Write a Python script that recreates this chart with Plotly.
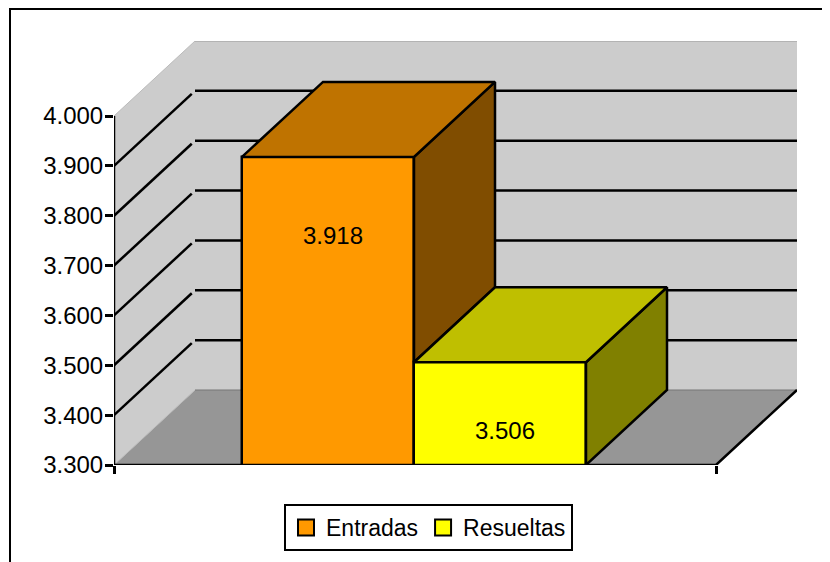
import plotly.graph_objects as go

categories = ["Entradas", "Resueltas"]
values = [3918, 3506]
colors_front = ["#FF9900", "#FFFF00"]
colors_top = ["#BF7300", "#BFBF00"]
colors_side = ["#804D00", "#808000"]
tick_vals = [3300, 3400, 3500, 3600, 3700, 3800, 3900, 4000]
tick_text = ["3.300", "3.400", "3.500", "3.600", "3.700", "3.800", "3.900", "4.000"]

W, H = 830, 562
PAGE = 8                # the page's own margin around the figure
L, R, T, B = 114, 797, 41, 465
PX_X = 172.0            # pixels per category unit
PX_Y = 349.0 / 700.0    # pixels per value unit
DX = 81 / PX_X          # depth offset in x units
DY = 75 / PX_Y          # depth offset in y units
XMAX = (R - L) / PX_X
YMIN = 3300
YMAX = YMIN + (B - T) / PX_Y
YTOP = tick_vals[-1]
FLOOR_W = 3.5
BAR_START = 128 / PX_X
FONT = "Liberation Sans, Arial, sans-serif"
FS = 24
LW = 2.5

fig = go.Figure()

# front faces
for i, (c, v) in enumerate(zip(categories, values)):
    fig.add_trace(go.Bar(
        x=[BAR_START + i + 0.5], y=[v], width=[1], name=c, showlegend=False,
        marker=dict(color=colors_front[i], line=dict(color="black", width=LW)),
        hoverinfo="skip",
    ))

# side and top faces, back to front; a side stops where the next bar hides it
for i, v in enumerate(values):
    x0 = BAR_START + i
    x1 = x0 + 1
    low = values[i + 1] if i + 1 < len(values) else YMIN
    fig.add_trace(go.Scatter(
        x=[x1, x1 + DX, x1 + DX, x1, x1], y=[v, v + DY, low + DY, low, v],
        mode="lines", fill="toself", fillcolor=colors_side[i],
        line=dict(color="black", width=LW), showlegend=False, hoverinfo="skip", cliponaxis=False,
    ))
    fig.add_trace(go.Scatter(
        x=[x0, x0 + DX, x1 + DX, x1, x0], y=[v, v + DY, v + DY, v, v],
        mode="lines", fill="toself", fillcolor=colors_top[i],
        line=dict(color="black", width=LW), showlegend=False, hoverinfo="skip", cliponaxis=False,
    ))

# axis lines
fig.add_trace(go.Scatter(x=[0, 0], y=[YMIN, YTOP], mode="lines",
                         line=dict(color="black", width=LW), showlegend=False,
                         hoverinfo="skip", cliponaxis=False))
fig.add_trace(go.Scatter(x=[0, FLOOR_W, FLOOR_W + DX], y=[YMIN, YMIN, YMIN + DY], mode="lines",
                         line=dict(color="black", width=LW), showlegend=False,
                         hoverinfo="skip", cliponaxis=False))

# legend entries
for i, c in enumerate(categories):
    fig.add_trace(go.Scatter(
        x=[None], y=[None], mode="markers", name=c, hoverinfo="skip",
        marker=dict(symbol="square", size=16, color=colors_front[i],
                    line=dict(color="black", width=2)),
    ))

# walls and gridlines, underneath the bars
shapes = []
shapes.append(dict(type="path", path=f"M 0 {YMIN} L 0 {YTOP} L {DX} {YTOP + DY} "
                   f"L {DX + FLOOR_W} {YTOP + DY} L {DX + FLOOR_W} {YMIN + DY} L {DX} {YMIN + DY} Z",
                   fillcolor="#CCCCCC", line=dict(width=0), layer="below"))
shapes.append(dict(type="path", path=f"M 0 {YMIN} L {DX} {YMIN + DY} L {DX + FLOOR_W} {YMIN + DY} L {FLOOR_W} {YMIN} Z",
                   fillcolor="#969696", line=dict(width=0), layer="below"))
shapes.append(dict(type="line", x0=DX, x1=DX + FLOOR_W, y0=YMIN + DY, y1=YMIN + DY,
                   line=dict(color="#777777", width=1), layer="below"))
shapes.append(dict(type="line", x0=DX, x1=DX + FLOOR_W, y0=YTOP + DY, y1=YTOP + DY,
                   line=dict(color="#999999", width=1), layer="below"))
shapes.append(dict(type="line", x0=0, x1=DX, y0=YTOP, y1=YTOP + DY,
                   line=dict(color="#BBBBBB", width=1), layer="below"))
shapes.append(dict(type="line", x0=0, x1=DX, y0=YMIN, y1=YMIN + DY,
                   line=dict(color="#BBBBBB", width=1), layer="below"))
for v in tick_vals[1:-1]:
    shapes.append(dict(type="line", x0=0, x1=DX * 0.96, y0=v, y1=v + DY * 0.96,
                       line=dict(color="black", width=LW), layer="below"))
    shapes.append(dict(type="line", x0=DX, x1=DX + FLOOR_W, y0=v + DY, y1=v + DY,
                       line=dict(color="black", width=LW), layer="below"))


# page pixels converted to plot fractions
def fx(px):
    return (px - L) / (R - L)


def fy(px):
    return (B - px) / (B - T)


# outer frame: only its left and top edges fall inside the picture
shapes.append(dict(type="rect", xref="paper", yref="paper",
                   x0=fx(10), x1=fx(900), y0=fy(640), y1=fy(9),
                   line=dict(color="black", width=2), layer="below"))

# value labels, set off from the bar centres as in the reference
label_y = [3761, 3370]
LABEL_SHIFT = 5 / PX_X
annotations = [dict(x=BAR_START + i + 0.5 + LABEL_SHIFT, y=label_y[i],
                    text=f"{v:,}".replace(",", "."),
                    showarrow=False, font=dict(family=FONT, size=FS, color="black"))
               for i, v in enumerate(values)]

fig.update_layout(
    width=W - PAGE, height=H - PAGE, autosize=False,
    margin=dict(l=L - PAGE, r=W - R, t=T - PAGE, b=H - B, pad=0),
    paper_bgcolor="white", plot_bgcolor="white",
    barmode="overlay", bargap=0,
    font=dict(family=FONT, size=FS, color="black"),
    xaxis=dict(range=[0, XMAX], showgrid=False, zeroline=False, showline=False,
               tickmode="array", tickvals=[0, FLOOR_W], ticktext=["", ""],
               ticks="outside", ticklen=8, tickwidth=LW, tickcolor="black", fixedrange=True),
    yaxis=dict(range=[YMIN, YMAX], showgrid=False, zeroline=False, showline=False,
               tickmode="array", tickvals=tick_vals, ticktext=tick_text,
               ticks="outside", ticklen=8, tickwidth=LW, tickcolor="black", fixedrange=True,
               ticklabelstandoff=-3,
               tickfont=dict(family=FONT, size=FS, color="black")),
    legend=dict(orientation="h", xref="container", yref="container",
                x=(284 - PAGE) / (W - PAGE), y=1 - (504 - PAGE) / (H - PAGE),
                xanchor="left", yanchor="top",
                bgcolor="white", bordercolor="black", borderwidth=2,
                font=dict(family=FONT, size=23, color="black"),
                itemwidth=30, tracegroupgap=0, traceorder="normal"),
    shapes=shapes, annotations=annotations, showlegend=True,
)

fig.write_html("out.html")
